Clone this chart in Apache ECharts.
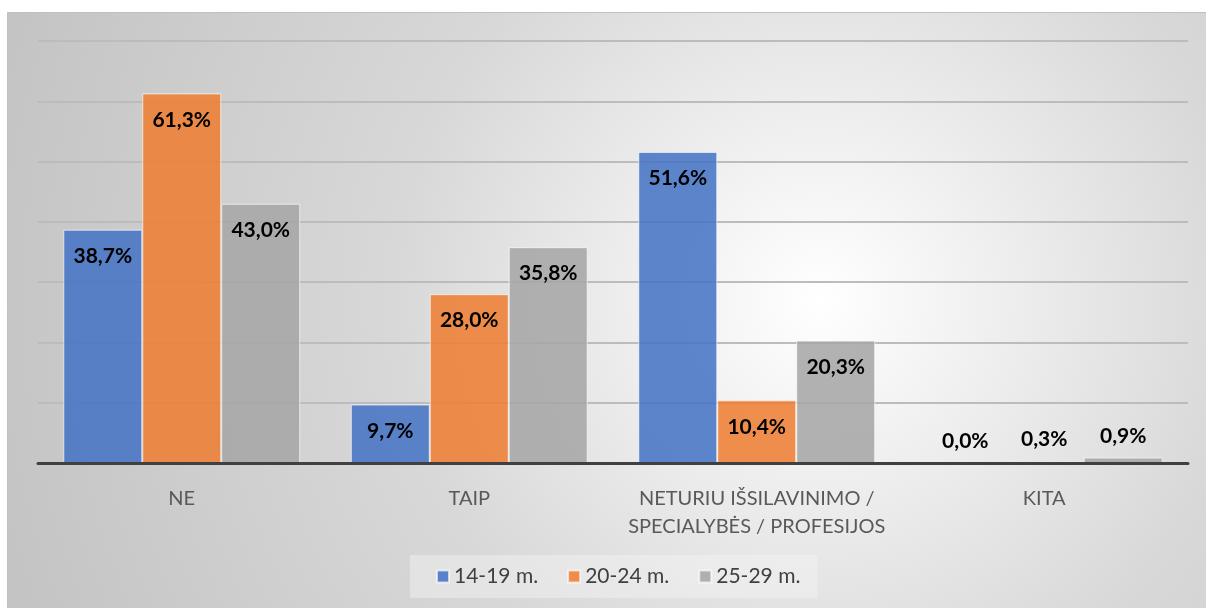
<!DOCTYPE html>
<html>
<head>
<meta charset="utf-8">
<script src="https://cdn.jsdelivr.net/npm/echarts@6/dist/echarts.min.js"></script>
<style>
html,body{margin:0;padding:0;background:#fff;}
#chart{width:1206px;height:608px;}
</style>
</head>
<body>
<div id="chart"></div>
<script>
const categories = ['NE', 'TAIP', 'NETURIU IŠSILAVINIMO /\nSPECIALYBĖS / PROFESIJOS', 'KITA'];
const seriesNames = ['14-19 m.', '20-24 m.', '25-29 m.'];
const values1419 = [38.7, 9.7, 51.6, 0.0];
const values2024 = [61.3, 28.0, 10.4, 0.3];
const values2529 = [43.0, 35.8, 20.3, 0.9];
const colors = ['rgba(68,114,196,0.86)', 'rgba(237,125,49,0.86)', 'rgba(165,165,165,0.86)'];

const FONT = 'Lato, "Open Sans", sans-serif';

function fmt(v) { return v.toFixed(1).replace('.', ',') + '%'; }

function makeData(arr) {
  return arr.map(v => ({
    value: v,
    label: v < 5 ? { position: 'top', distance: 11 } : { position: 'insideTop', distance: 16 }
  }));
}

function makeSeries(name, arr, color) {
  return {
    name: name,
    type: 'bar',
    barGap: '0%',
    barCategoryGap: '17.6%',
    data: makeData(arr),
    itemStyle: { color: color, borderColor: 'rgba(255,255,255,0.65)', borderWidth: 1 },
    label: {
      show: true,
      formatter: p => fmt(p.value),
      fontFamily: FONT,
      fontWeight: 'bold',
      fontSize: 21,
      color: '#000'
    },
    z: 2
  };
}

const chart = echarts.init(document.getElementById('chart'), null, { renderer: 'canvas' });
chart.setOption({
  backgroundColor: '#ffffff',
  animation: false,
  color: colors,
  graphic: [{
    type: 'rect',
    z: -10,
    silent: true,
    shape: { x: 7.5, y: 12.5, width: 1200, height: 596 },
    style: {
      fill: {
        type: 'radial', x: 820, y: 300, r: 850, global: true,
        colorStops: [
          { offset: 0, color: '#ffffff' },
          { offset: 0.22, color: '#eeeeee' },
          { offset: 0.5, color: '#d8d8d8' },
          { offset: 1, color: '#c4c4c4' }
        ]
      },
      stroke: '#c0c0c0',
      lineWidth: 1
    }
  }],
  grid: { left: 38, right: 18, top: 41, bottom: 145, containLabel: false },
  legend: {
    data: seriesNames,
    left: 410,
    top: 555,
    padding: [11, 17, 11, 26],
    backgroundColor: 'rgba(245,245,245,0.45)',
    itemWidth: 12,
    itemHeight: 12,
    itemGap: 29,
    icon: 'rect',
    textStyle: { fontFamily: FONT, fontSize: 21, color: '#404040' }
  },
  xAxis: {
    type: 'category',
    data: categories,
    axisLine: { lineStyle: { color: '#404040', width: 3 } },
    axisTick: { show: false },
    axisLabel: { fontFamily: FONT, fontSize: 20, color: '#595959', margin: 22, lineHeight: 28, interval: 0 },
    z: 5
  },
  yAxis: {
    type: 'value',
    min: 0,
    max: 70,
    interval: 10,
    axisLabel: { show: false },
    axisLine: { show: false },
    axisTick: { show: false },
    splitLine: { lineStyle: { color: '#bcbcbc', width: 2 } }
  },
  series: [
    makeSeries(seriesNames[0], values1419, colors[0]),
    makeSeries(seriesNames[1], values2024, colors[1]),
    makeSeries(seriesNames[2], values2529, colors[2])
  ]
});
</script>
</body>
</html>
